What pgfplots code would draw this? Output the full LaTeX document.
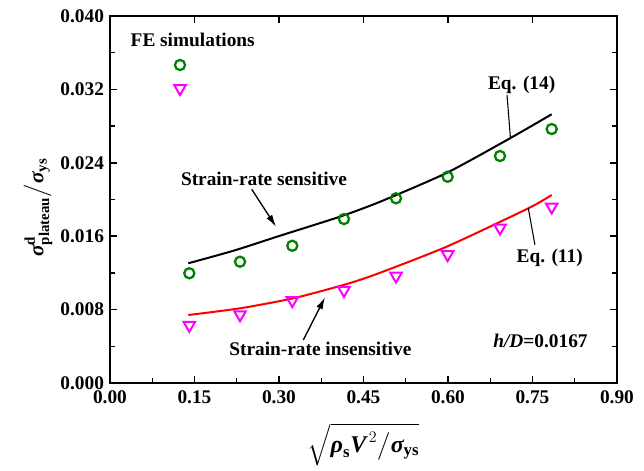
\documentclass[border=0pt]{standalone}
\usepackage{amsmath}
\usepackage{pgfplots}
\pgfplotsset{compat=1.18}
\usepackage{fontspec}
\setmainfont{Liberation Serif}
\usetikzlibrary{arrows.meta}
\definecolor{fegreen}{RGB}{0,128,0}
\definecolor{femag}{RGB}{255,0,255}
\newcommand{\bi}[1]{\text{\bfseries\itshape #1}}
\newcommand{\bt}[1]{\text{\bfseries #1}}

\begin{document}
\begin{tikzpicture}[font=\fontsize{14.5}{17}\selectfont\bfseries]
\begin{axis}[
  scale only axis, width=380.25pt, height=275.25pt,
  xmin=0, xmax=0.9, ymin=0, ymax=0.04,
  xtick={0,0.15,0.30,0.45,0.60,0.75,0.90},
  ytick={0,0.008,0.016,0.024,0.032,0.040},
  minor x tick num=1, minor y tick num=1,
  xtick pos=lower, ytick pos=both,
  tick align=inside,
  major tick length=5pt, minor tick length=4pt,
  every tick/.style={line width=1.1pt, black},
  axis line style={line width=1.5pt},
  scaled x ticks=false, scaled y ticks=false,
  /pgf/number format/assume math mode=true,
  xticklabel style={yshift=-2.5pt, /pgf/number format/.cd, fixed, fixed zerofill, precision=2},
  yticklabel style={xshift=-1pt, /pgf/number format/.cd, fixed, fixed zerofill, precision=3},
  tick label style={font=\fontsize{14.5}{17}\selectfont\bfseries},
  xlabel={$\sqrt{\bi{ρ}_{\bt{s}}\bi{V}^{\,2}\big/\bi{σ}_{\bt{ys}}}$},
  ylabel={$\bi{σ}^{\bt{d}}_{\bt{plateau}}\big/\bi{σ}_{\bt{ys}}$},
  xlabel style={at={(axis description cs:0.5,-0.168)}, anchor=center, font=\fontsize{18}{21}\selectfont\bfseries},
  ylabel style={at={(axis description cs:-0.142,0.478)}, anchor=center, font=\fontsize{16}{19}\selectfont\bfseries},
  clip=false,
]
% top ticks (major only)
\pgfplotsinvokeforeach{0.15,0.30,0.45,0.60,0.75}{
  \draw[line width=1.1pt] (axis cs:#1,0.04) -- ++(0,-5pt);
}
% Eq. (14)
\addplot[black, line width=1.5pt, smooth, tension=0.4] coordinates {
  (0.139,0.01305) (0.22,0.01443) (0.3018,0.01605) (0.4083,0.01813)
  (0.4793,0.01975) (0.5977,0.0229) (0.7101,0.02667) (0.7841,0.02929)
};
% Eq. (11)
\addplot[red, line width=1.5pt, smooth, tension=0.4] coordinates {
  (0.139,0.00741) (0.2308,0.00814) (0.3254,0.00923) (0.4142,0.01068)
  (0.47,0.0118) (0.5977,0.01486) (0.7426,0.01904) (0.7841,0.02049)
};
% FE simulations, strain-rate sensitive
\addplot[only marks, mark=o, mark size=3.8pt, fegreen, mark options={line width=1.7pt}] coordinates {
  (0.1408,0.01196) (0.2308,0.01322) (0.3236,0.01496) (0.4154,0.01787)
  (0.5077,0.02013) (0.5994,0.02248) (0.6923,0.02474) (0.7841,0.02768)
  (0.1243,0.03466)
};
% FE simulations, strain-rate insensitive
\addplot[only marks, mark=triangle, mark size=5pt, femag, mark options={rotate=180, line width=1.5pt}] coordinates {
  (0.1408,0.00630) (0.2308,0.00745) (0.3236,0.00900) (0.4154,0.01010)
  (0.5077,0.01167) (0.5994,0.01400) (0.6923,0.01690) (0.7841,0.01920)
  (0.1243,0.03210)
};
\node[anchor=base west] at (axis cs:0.0284,0.03665) {FE simulations};
\node[anchor=base] at (axis cs:0.7308,0.0320) {Eq. (14)};
\draw[line width=0.8pt] (axis cs:0.7048,0.03139) -- (axis cs:0.7109,0.02667);
\node[anchor=base] at (axis cs:0.7805,0.01308) {Eq. (11)};
\draw[line width=0.8pt] (axis cs:0.7426,0.01904) -- (axis cs:0.7544,0.01504);
\node[anchor=base] at (axis cs:0.2734,0.02158) {Strain-rate sensitive};
\draw[line width=1pt, -{Latex[length=9pt,width=5pt]}] (axis cs:0.2516,0.02111) -- (axis cs:0.2947,0.01704);
\node[anchor=base] at (axis cs:0.3734,0.00305) {Strain-rate insensitive};
\draw[line width=1pt, -{Latex[length=9pt,width=5pt]}] (axis cs:0.3432,0.00469) -- (axis cs:0.3817,0.00934);
\node[anchor=base] at (axis cs:0.7642,0.003815) {\textit{h/D}=0.0167};
\end{axis}
\path (current axis.south west) ++(-82.5pt,-65.25pt) rectangle ++(483pt,352.5pt);
\end{tikzpicture}
\end{document}
